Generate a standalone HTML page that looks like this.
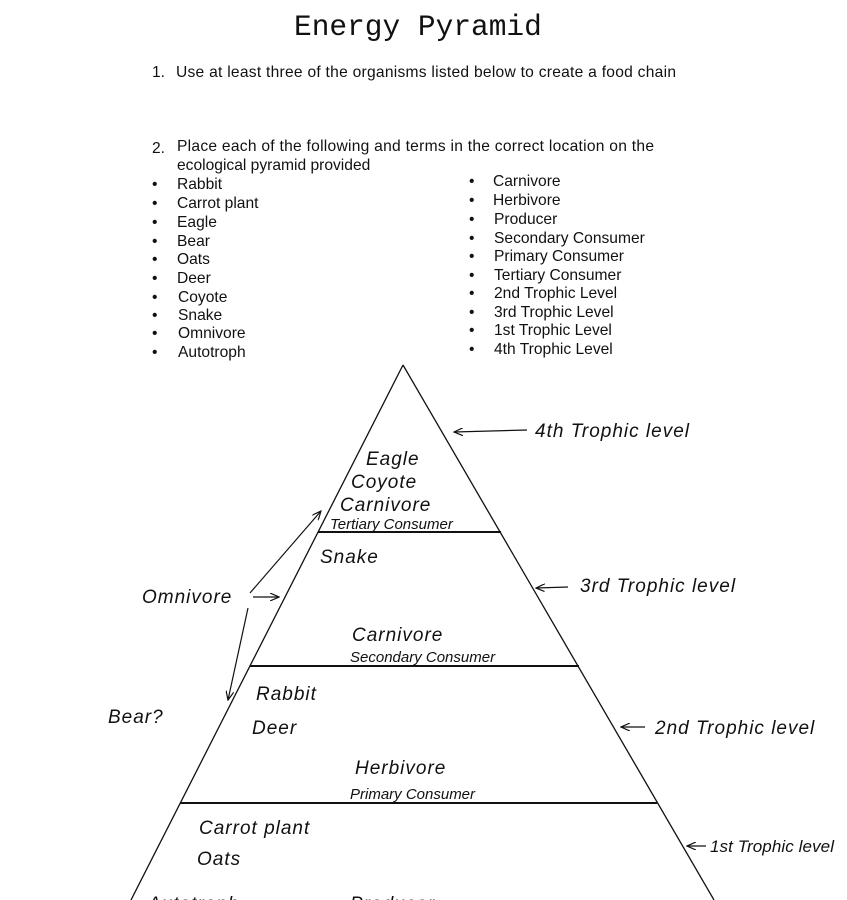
<!DOCTYPE html>
<html><head><meta charset="utf-8"><style>
html,body{margin:0;padding:0;background:#fff;}
svg{display:block;}
.p{font-family:"Liberation Sans",sans-serif;font-size:15.6px;fill:#111;}
.h{font-family:"Liberation Sans",sans-serif;font-style:italic;font-size:19px;fill:#111;letter-spacing:1px;}
.hs{font-family:"Liberation Sans",sans-serif;font-style:italic;font-size:15px;fill:#111;}
</style></head><body>
<svg width="847" height="900" viewBox="0 0 847 900" xmlns="http://www.w3.org/2000/svg">
<defs><marker id="a" markerWidth="10" markerHeight="8" refX="9" refY="4" orient="auto" markerUnits="userSpaceOnUse"><path d="M0,0 L9,4 L0,8" fill="none" stroke="#111" stroke-width="1.2"/></marker></defs>
<text x="294" y="35" font-family="Liberation Mono,monospace" font-size="29.5" fill="#111">Energy Pyramid</text>
<text class="p" x="152" y="77">1.</text><text class="p" x="176" y="77" textLength="500">Use at least three of the organisms listed below to create a food chain</text>
<text class="p" x="152" y="153">2.</text><text class="p" x="177" y="151" textLength="477">Place each of the following and terms in the correct location on the</text>
<text class="p" x="177" y="170">ecological pyramid provided</text>
<g class="p">
<text x="152" y="189">•</text><text x="177" y="189">Rabbit</text>
<text x="152" y="208">•</text><text x="177" y="208">Carrot plant</text>
<text x="152" y="227">•</text><text x="177" y="227">Eagle</text>
<text x="152" y="246">•</text><text x="177" y="246">Bear</text>
<text x="152" y="264">•</text><text x="177" y="264">Oats</text>
<text x="152" y="283">•</text><text x="177" y="283">Deer</text>
<text x="152" y="302">•</text><text x="178" y="302">Coyote</text>
<text x="152" y="320">•</text><text x="178" y="320">Snake</text>
<text x="152" y="338">•</text><text x="178" y="338">Omnivore</text>
<text x="152" y="357">•</text><text x="178" y="357">Autotroph</text>
<text x="469" y="186">•</text><text x="493" y="186">Carnivore</text>
<text x="469" y="205">•</text><text x="493" y="205">Herbivore</text>
<text x="469" y="224">•</text><text x="494" y="224">Producer</text>
<text x="469" y="243">•</text><text x="494" y="243">Secondary Consumer</text>
<text x="469" y="261">•</text><text x="494" y="261">Primary Consumer</text>
<text x="469" y="280">•</text><text x="494" y="280">Tertiary Consumer</text>
<text x="469" y="298">•</text><text x="494" y="298">2nd Trophic Level</text>
<text x="469" y="317">•</text><text x="494" y="317">3rd Trophic Level</text>
<text x="469" y="335">•</text><text x="494" y="335">1st Trophic Level</text>
<text x="469" y="354">•</text><text x="494" y="354">4th Trophic Level</text>
</g>
<g stroke="#111" fill="none">
<path d="M403,365 L131,900 M403,365 L714,900" stroke-width="1.3"/>
<path d="M318,532 L501,532 M250,666 L579,666 M180,803 L657,803" stroke-width="2"/>
<g stroke-width="1.2" marker-end="url(#a)">
<path d="M527,430 L454,432"/>
<path d="M568,587 L536,588"/>
<path d="M645,727 L621,727"/>
<path d="M706,846 L687,846"/>
<path d="M250,593 L321,511"/>
<path d="M253,597 L279,597"/>
<path d="M248,608 L228,700"/>
</g></g>
<g class="h">
<text x="535" y="437">4th Trophic level</text>
<text x="580" y="592">3rd Trophic level</text>
<text x="655" y="734">2nd Trophic level</text>
<text x="710" y="852" font-size="17" textLength="125">1st Trophic level</text>
<text x="366" y="465">Eagle</text>
<text x="351" y="488">Coyote</text>
<text x="340" y="511">Carnivore</text>
<text x="320" y="563">Snake</text>
<text x="352" y="641">Carnivore</text>
<text x="256" y="700">Rabbit</text>
<text x="252" y="734">Deer</text>
<text x="355" y="774">Herbivore</text>
<text x="199" y="834">Carrot plant</text>
<text x="197" y="865">Oats</text>
<text x="142" y="603">Omnivore</text>
<text x="108" y="723">Bear?</text>
<text x="148" y="910">Autotroph</text>
<text x="350" y="910">Producer</text>
</g>
<g class="hs">
<text x="330" y="529">Tertiary Consumer</text>
<text x="350" y="662">Secondary Consumer</text>
<text x="350" y="799">Primary Consumer</text>
</g>
</svg>
</body></html>
